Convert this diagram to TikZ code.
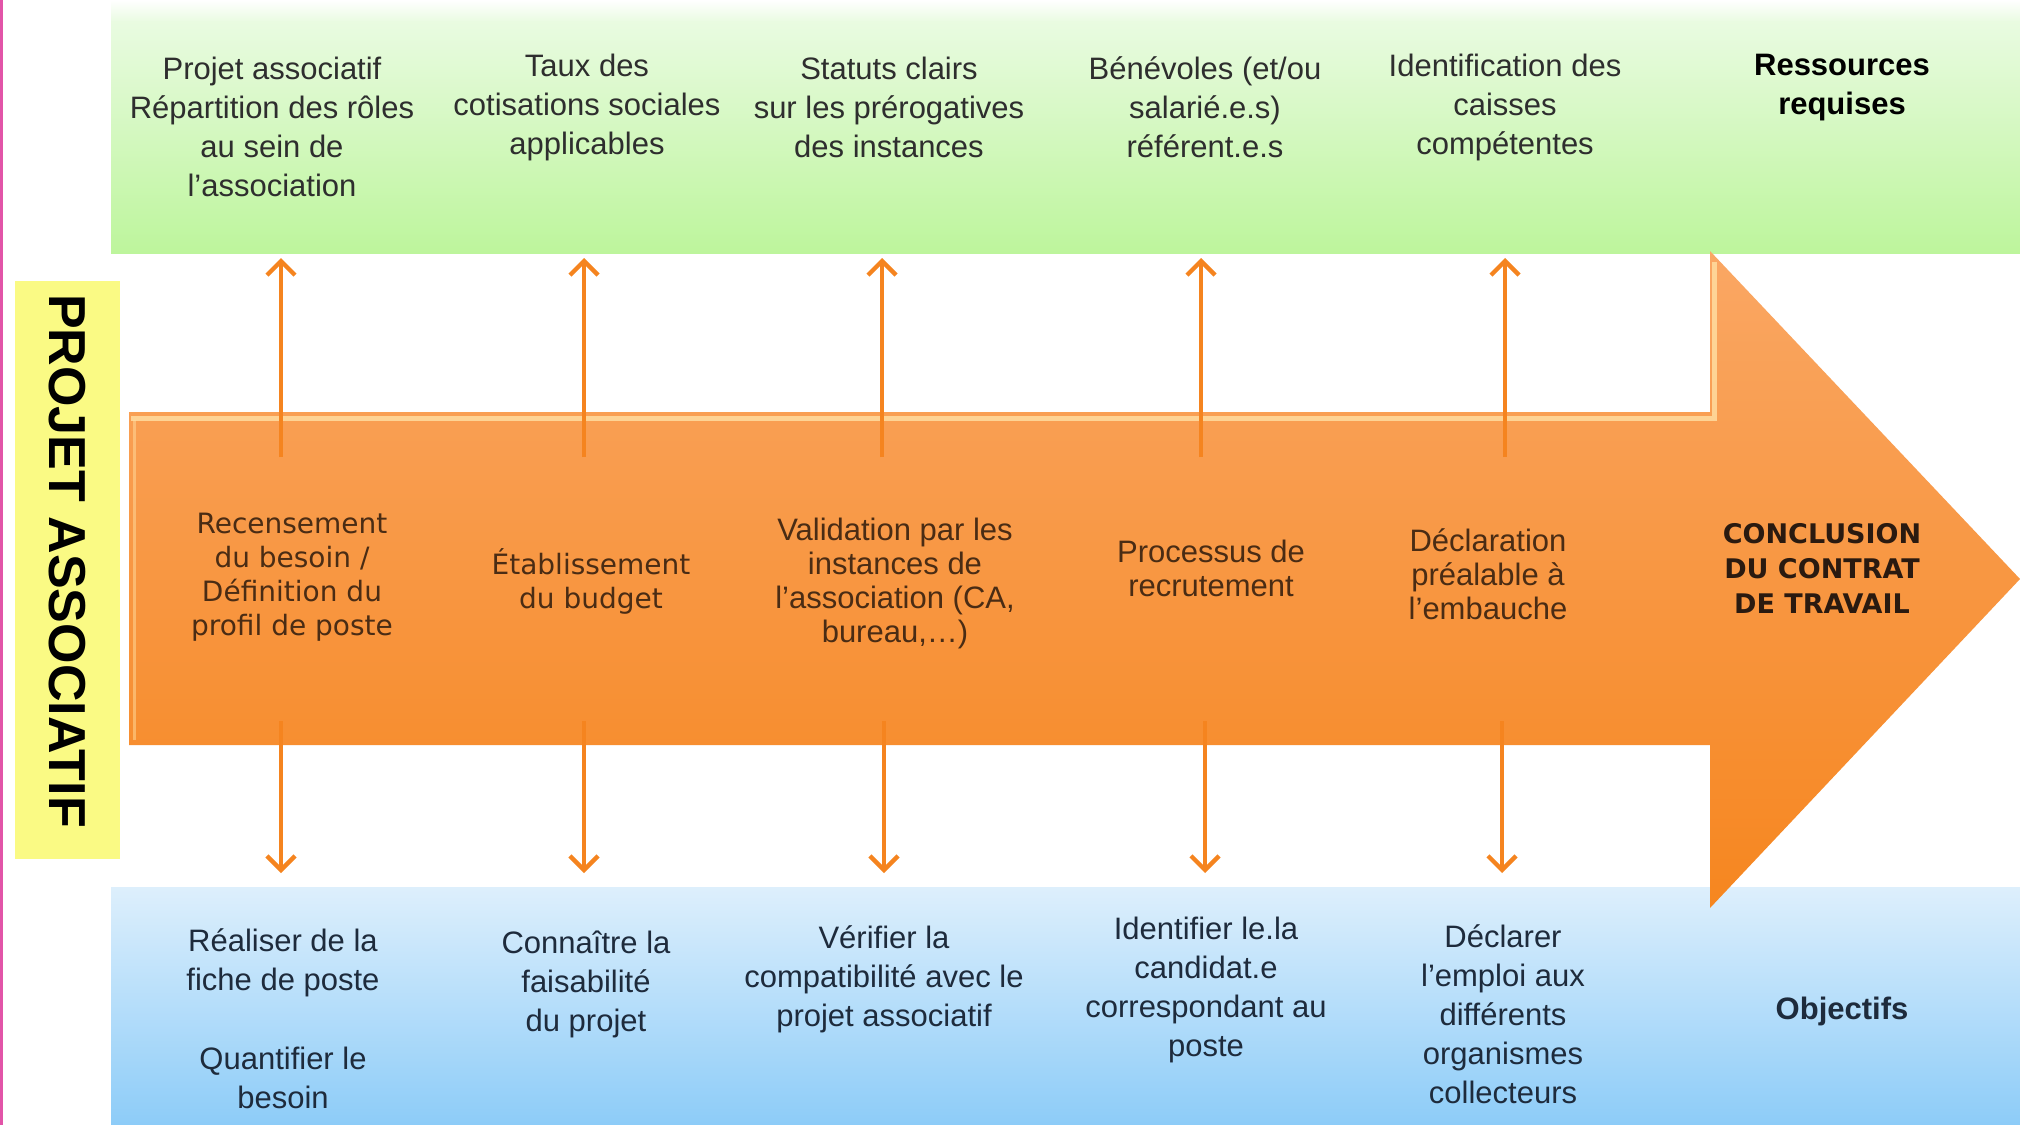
\documentclass[tikz,border=0pt]{standalone}
\usepackage{fontspec}
\setmainfont{Liberation Sans}
\newfontfamily\dvs{DejaVu Sans}
\usetikzlibrary{arrows.meta}
\definecolor{greenTop}{HTML}{E9FBE1}
\definecolor{greenBot}{HTML}{BDF59C}
\definecolor{blueTop}{HTML}{DDEFFC}
\definecolor{blueBot}{HTML}{8DCCF8}
\definecolor{orTop}{HTML}{FAA764}
\definecolor{orBot}{HTML}{F6861F}
\definecolor{orLine}{HTML}{F5841F}
\definecolor{orHi}{HTML}{FFDDA0}
\definecolor{yel}{HTML}{FAFA84}
\definecolor{pinkL}{HTML}{E254A8}
\definecolor{txtG}{HTML}{2E2E2E}
\definecolor{txtB}{HTML}{1E2B3C}
\definecolor{txtO}{HTML}{4A2C14}
\definecolor{txtC}{HTML}{2A1A10}
\tikzset{
  gtxt/.style={align=center, text=txtG, inner sep=0pt, font=\fontsize{15.5}{19.5}\selectfont},
  btxt/.style={align=center, text=txtB, inner sep=0pt, font=\fontsize{15.5}{19.5}\selectfont},
  gbold/.style={align=center, text=black, inner sep=0pt, font=\bfseries\fontsize{15.5}{19.5}\selectfont},
  midA/.style={align=center, text=txtO, inner sep=0pt, font=\dvs\fontsize{14}{17}\selectfont},
  midB/.style={align=center, text=txtO, inner sep=0pt, font=\fontsize{15.5}{17}\selectfont},
  concl/.style={align=center, text=txtC, inner sep=0pt, font=\dvs\bfseries\fontsize{13.5}{17.5}\selectfont},
  conn/.style={draw=orLine, line width=2.2pt, -{Straight Barb[length=7pt,width=14pt]}},
}
\begin{document}
\begin{tikzpicture}[x=0.5pt,y=-0.5pt]
\useasboundingbox (0,0) rectangle (2020,1125);
\fill[white] (0,0) rectangle (2020,1125);
% bands
\shade[top color=white, bottom color=greenTop] (111,0) rectangle (2020,22);
\shade[top color=greenTop, bottom color=greenBot] (111,21) rectangle (2020,253);
\shade[top color=blueTop, bottom color=blueBot] (111,887) rectangle (2020,1125);
% left elements
\draw[pinkL, line width=1.5pt] (1.5,0) -- (1.5,1125);
\fill[yel] (15,281) rectangle (120,859);
\node[rotate=-90, inner sep=0pt, font=\bfseries\fontsize{26}{26}\selectfont] (pa) at (67,561) {PROJET ASSOCIATIF};
% big arrow
\shade[top color=orTop, bottom color=orBot]
  (129,412) -- (1710,412) -- (1710,251) -- (2020,579) -- (1710,908) -- (1710,745) -- (129,745) -- cycle;
\draw[orHi, line width=2.5pt, opacity=0.85] (131,418) -- (1714,418) -- (1714,262);
\draw[orHi, line width=1.5pt, opacity=0.5] (134,420) -- (134,740);
% top texts
\node[gtxt] (r1) at (272,127) {Projet associatif\\Répartition des rôles\\au sein de\\l'association};
\node[gtxt] (r2) at (587,107) {Taux des\\cotisations sociales\\applicables};
\node[gtxt] (r3) at (889,107) {Statuts clairs\\sur les prérogatives\\des instances};
\node[gtxt] (r4) at (1205,107) {Bénévoles (et/ou\\salarié.e.s)\\référent.e.s};
\node[gtxt] (r5) at (1505,107) {Identification des\\caisses\\compétentes};
\node[gbold] (rl) at (1842,88) {Ressources\\requises};
% middle texts
\node[midA] (s1) at (292,577) {Recensement\\du besoin /\\Définition du\\profil de poste};
\node[midA] (s2) at (591,581) {Établissement\\du budget};
\node[midB] (s3) at (895,583) {Validation par les\\instances de\\l'association (CA,\\bureau,…)};
\node[midB] (s4) at (1211,568) {Processus de\\recrutement};
\node[midB] (s5) at (1488,574) {Déclaration\\préalable à\\l'embauche};
\node[concl] (s6) at (1822,568) {CONCLUSION\\DU CONTRAT\\DE TRAVAIL};
% bottom texts
\node[btxt] (o1) at (283,1019) {Réaliser de la\\fiche de poste\\[20pt]Quantifier le\\besoin};
\node[btxt] (o2) at (586,984) {Connaître la\\faisabilité\\du projet};
\node[btxt] (o3) at (884,979) {Vérifier la\\compatibilité avec le\\projet associatif};
\node[btxt] (o4) at (1206,990) {Identifier le.la\\candidat.e\\correspondant au\\poste};
\node[btxt] (o5) at (1503,1014) {Déclarer\\l'emploi aux\\différents\\organismes\\collecteurs};
\node[gbold, text=txtB] (ol) at (1842,1011) {Objectifs};
% connectors
\foreach \i/\xu/\xd in {1/281/281, 2/584/584, 3/882/884, 4/1201/1205, 5/1505/1502}{
  \coordinate (us\i) at (\xu,457);
  \coordinate (ue\i) at (\xu,258);
  \coordinate (ds\i) at (\xd,721);
  \coordinate (de\i) at (\xd,873);
}
\foreach \i in {1,...,5}{
  \draw[conn] (us\i) -- (ue\i);
  \draw[conn] (ds\i) -- (de\i);
}
\end{tikzpicture}
\end{document}
